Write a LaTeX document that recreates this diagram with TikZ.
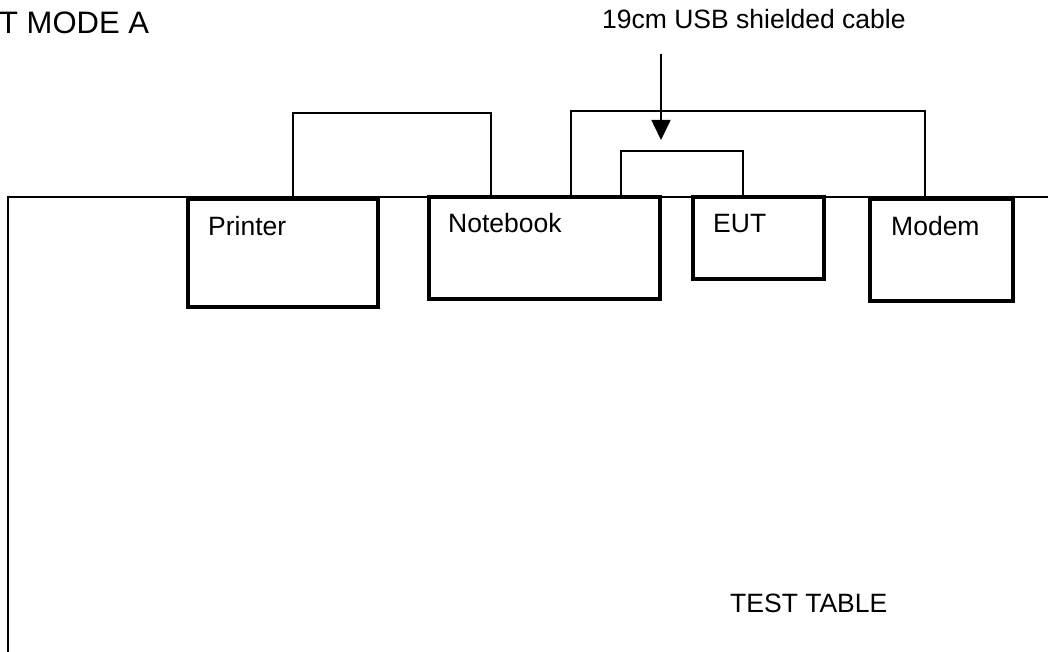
\documentclass[tikz,border=0pt]{standalone}
\usepackage{fontspec}
\setmainfont{Liberation Sans}
\usetikzlibrary{arrows.meta}
\begin{document}
\begin{tikzpicture}[x=1pt,y=1pt,
  devbox/.style={draw, line width=4pt, fill=white, outer sep=0pt, inner sep=0pt},
  lbl/.style={anchor=base west, inner sep=0pt, font=\fontsize{26.5}{30}\selectfont},
  cable/.style={line width=1.6pt},
  tableline/.style={line width=2pt}]
\useasboundingbox (0,0) rectangle (1048,-652);
% test table
\coordinate (tl) at (8,-652);
\coordinate (tr) at (1048,-197);
\draw[tableline] (tl) |- (tr);
% devices
\node[devbox, minimum width=190, minimum height=108] (printer) at (283,-253) {};
\node[devbox, minimum width=231, minimum height=102] (notebook) at (544.5,-248) {};
\node[devbox, minimum width=131, minimum height=82] (eut) at (758.5,-238) {};
\node[devbox, minimum width=143, minimum height=102] (modem) at (941.5,-250) {};
\node[lbl] (tprinter) at (208,-235) {Printer};
\node[lbl] (tnotebook) at (448,-233) {Notebook};
\node[lbl] (teut) at (713,-233) {EUT};
\node[lbl] (tmodem) at (891,-235) {Modem};
% cables
\draw[cable] ([xshift=105pt]printer.north west) -- ++(0,86) -| ([xshift=62pt]notebook.north west);
\draw[cable] ([xshift=142pt]notebook.north west) -- ++(0,86) -| ([xshift=55pt]modem.north west);
\draw[cable] ([xshift=192pt]notebook.north west) -- ++(0,46) -| ([xshift=50pt]eut.north west);
% annotation
\coordinate (astart) at (661,-54);
\coordinate (aend) at (661,-140);
\draw[cable, -{Triangle[length=20pt,width=19pt]}] (astart) -- (aend);
\node[lbl] (usb) at (602,-29) {19cm USB shielded cable};
\node[lbl, font=\fontsize{31}{36}\selectfont] (title) at (-1,-34) {T MODE A};
\node[lbl] (table) at (730,-612) {TEST TABLE};
\end{tikzpicture}
\end{document}
